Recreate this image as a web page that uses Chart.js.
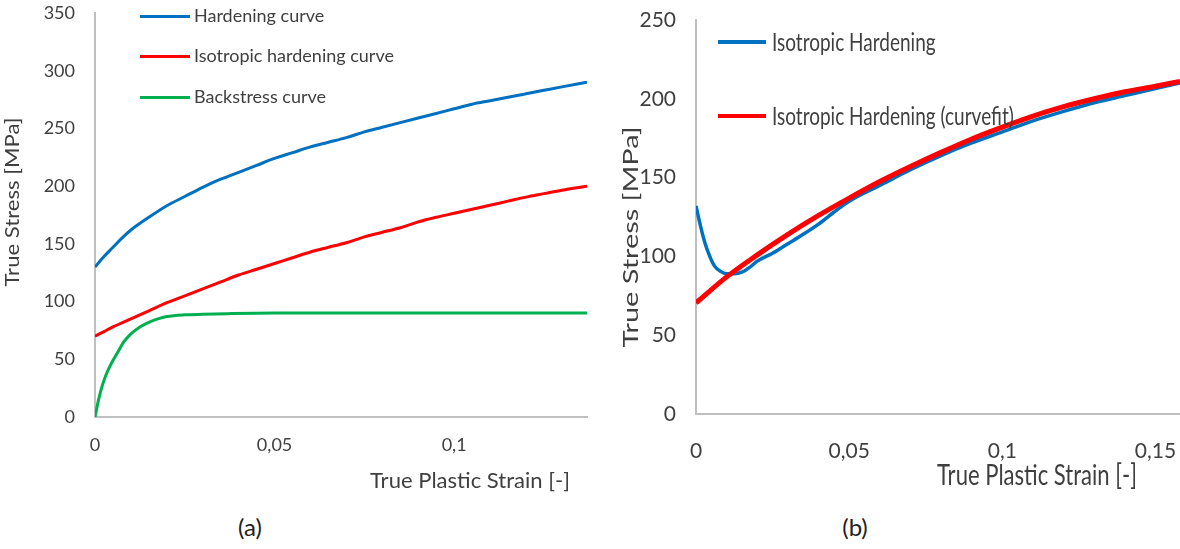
<!DOCTYPE html>
<html>
<head>
<meta charset="utf-8">
<title>Hardening curves</title>
<script src="https://cdn.jsdelivr.net/npm/chart.js@4.4.1/dist/chart.umd.min.js"></script>
<style>
    body { margin: 0; width: 1180px; height: 549px; background: #fff; position: relative; overflow: hidden; font-family: Lato, 'Open Sans', sans-serif; color: #3f3f3f; }
    canvas { position: absolute; top: 0; }
    #chartA { left: 0; }
    #chartB { left: 600px; }
    .legend { position: absolute; }
    .legend-row { position: absolute; left: 0; white-space: nowrap; }
    .legend-line { position: absolute; left: 0; }
    .legend-text { position: absolute; transform-origin: left center; line-height: 1; }
    .caption { position: absolute; top: 512px; font-size: 24px; color: #222; transform: translateX(-50%); }
</style>
</head>
<body>
<canvas id="chartA" width="600" height="500"></canvas>
<canvas id="chartB" width="580" height="500"></canvas>
<div class="legend" id="legendA" style="left:140px; top:0;"></div>
<div class="legend" id="legendB" style="left:718px; top:0;"></div>
<div class="caption" style="left:250px;">(a)</div>
<div class="caption" style="left:855px;">(b)</div>

<script>
// (a) hardening / isotropic / backstress curves
const strainA = [0, 0.0025, 0.005, 0.0075, 0.01, 0.015, 0.02, 0.025, 0.03, 0.035, 0.04, 0.045, 0.05, 0.055, 0.06,
    0.065, 0.07, 0.075, 0.08, 0.085, 0.09, 0.095, 0.1, 0.105, 0.11, 0.115, 0.12, 0.125, 0.13, 0.137];
const hardeningA = [130, 139, 147, 155, 162, 173, 183, 191, 199, 206, 212, 218, 224, 229, 234,
    238, 242, 247, 251, 255, 259, 263, 267, 271, 274, 277, 280, 283, 286, 290];
const isotropicA = [70, 74, 78, 81.5, 85, 92, 99, 105, 111, 117, 123, 128, 133, 138, 143,
    147, 151, 156, 160, 164, 169, 173, 176.5, 180, 183.5, 187, 190.5, 193.5, 196.5, 200];
const strainBack = [0, 0.001, 0.002, 0.003, 0.004, 0.005, 0.0065, 0.008, 0.01, 0.0125, 0.015, 0.0175, 0.02,
    0.025, 0.03, 0.037, 0.05, 0.075, 0.1, 0.137];
const backstressA = [0, 15, 27, 36, 43, 49, 57, 65, 72, 78, 82, 85, 87, 88.5, 89, 89.5, 90, 90, 90, 90];

// (b) isotropic hardening and its curve fit
const strainB = [0, 0.0015, 0.003, 0.0045, 0.006, 0.008, 0.01, 0.0125, 0.015, 0.0175, 0.02, 0.025, 0.03, 0.035,
    0.04, 0.045, 0.05, 0.06, 0.07, 0.08, 0.09, 0.1, 0.11, 0.12, 0.13, 0.14, 0.15, 0.158];
const isotropicB = [132, 119, 108, 100, 94, 90.5, 89, 89, 90, 93, 97, 102, 108, 114,
    120.5, 128, 135, 145, 155, 164, 172, 179, 186, 192, 197.5, 202, 206.5, 210];
const strainFit = [0, 0.01, 0.02, 0.03, 0.04, 0.05, 0.06, 0.07, 0.08, 0.09, 0.1, 0.11, 0.12, 0.13, 0.14, 0.15, 0.158];
const curvefitB = [70.5, 87, 101, 114, 126, 137, 147.5, 157, 166, 174.5, 182, 189, 195, 200, 204.5, 208, 211];

const ticksA = { xStep: 0.05, xMax: 0.137, yStep: 50, yMax: 350 };
const ticksB = { xStep: 0.05, xMax: 0.158, yStep: 50, yMax: 250 };

const BLUE = '#0070c0';
const RED = '#ff0000';
const GREEN = '#00b050';
const AXIS = '#bfbfbf';
const TEXT = '#3f3f3f';

function toPoints(xs, ys) {
    return xs.map((x, i) => ({ x: x, y: ys[i] }));
}

// decimal comma like the original
function commaLabel(v) {
    return parseFloat(v.toFixed(3)).toString().replace('.', ',');
}

// draws the axis titles where the original has them, squeezed to the original width
const axisTitles = {
    id: 'axisTitles',
    afterDraw(chart, args, opts) {
        const ctx = chart.ctx;
        (opts.items || []).forEach(t => {
            ctx.save();
            ctx.font = `${t.size}px Lato, 'Open Sans', sans-serif`;
            ctx.fillStyle = TEXT;
            ctx.textAlign = 'center';
            ctx.textBaseline = 'middle';
            ctx.translate(t.x, t.y);
            if (t.rotate) ctx.rotate(t.rotate);
            const w = ctx.measureText(t.text).width;
            ctx.scale(t.width / w, 1);
            ctx.fillText(t.text, 0, 0);
            ctx.restore();
        });
    }
};

function makeChart(id, datasets, ticks, cfg) {
    return new Chart(document.getElementById(id), {
        type: 'scatter',
        data: { datasets: datasets },
        plugins: [axisTitles],
        options: {
            responsive: false,
            animation: false,
            layout: { padding: cfg.padding },
            elements: { point: { radius: 0 }, line: { cubicInterpolationMode: 'monotone' } },
            plugins: {
                legend: { display: false },
                tooltip: { enabled: false },
                axisTitles: { items: cfg.titles }
            },
            scales: {
                x: {
                    type: 'linear',
                    min: 0,
                    max: ticks.xMax,
                    grid: { display: false, drawTicks: false },
                    border: { color: AXIS, width: 2 },
                    ticks: {
                        stepSize: ticks.xStep,
                        includeBounds: false,
                        padding: cfg.xPad,
                        color: TEXT,
                        font: { family: 'Lato', size: cfg.tickSize },
                        maxRotation: 0,
                        callback: v => commaLabel(v)
                    },
                    afterFit: s => {
                        s.height = cfg.xHeight;
                        s.paddingLeft = 0;
                        s.paddingRight = 0;
                    }
                },
                y: {
                    type: 'linear',
                    min: 0,
                    max: ticks.yMax,
                    grid: { display: false, drawTicks: false },
                    border: { color: AXIS, width: 2 },
                    ticks: {
                        stepSize: ticks.yStep,
                        padding: cfg.yPad,
                        color: TEXT,
                        font: { family: 'Lato', size: cfg.tickSize }
                    },
                    afterFit: s => {
                        s.width = cfg.yWidth;
                        s.paddingTop = 0;
                        s.paddingBottom = 0;
                    }
                }
            }
        }
    });
}

const chartA = makeChart('chartA', [
    { label: 'Hardening curve', data: toPoints(strainA, hardeningA), showLine: true, borderColor: BLUE, borderWidth: 3 },
    { label: 'Isotropic hardening curve', data: toPoints(strainA, isotropicA), showLine: true, borderColor: RED, borderWidth: 3 },
    { label: 'Backstress curve', data: toPoints(strainBack, backstressA), showLine: true, borderColor: GREEN, borderWidth: 3 }
], ticksA, {
    padding: { top: 13, right: 13, left: 0, bottom: 0 },
    xHeight: 83, yWidth: 95, xPad: 17, yPad: 20, tickSize: 18,
    titles: [
        { text: 'True Stress [MPa]', x: 13, y: 202, rotate: -Math.PI / 2, size: 20, width: 169 },
        { text: 'True Plastic Strain [-]', x: 470, y: 481, size: 21, width: 200 }
    ]
});

const chartB = makeChart('chartB', [
    { label: 'Isotropic Hardening', data: toPoints(strainB, isotropicB), showLine: true, borderColor: BLUE, borderWidth: 3.5, order: 1 },
    { label: 'Isotropic Hardening (curvefit)', data: toPoints(strainFit, curvefitB), showLine: true, borderColor: RED, borderWidth: 5, order: 0 }
], ticksB, {
    padding: { top: 20, right: 0, left: 0, bottom: 0 },
    xHeight: 86, yWidth: 96, xPad: 25, yPad: 20, tickSize: 21,
    titles: [
        { text: 'True Stress [MPa]', x: 31, y: 237, rotate: -Math.PI / 2, size: 22, width: 221 },
        { text: 'True Plastic Strain [-]', x: 437, y: 476, size: 28, width: 200 }
    ]
});

// legends as real text, built from the chart datasets
function buildLegend(chart, el, rows, lineW, lineH, textLeft, size, squeeze) {
    chart.data.datasets.forEach((ds, i) => {
        const row = document.createElement('div');
        row.className = 'legend-row';
        row.style.top = rows[i] + 'px';
        const line = document.createElement('div');
        line.className = 'legend-line';
        line.style.width = lineW + 'px';
        line.style.height = lineH + 'px';
        line.style.top = (-lineH / 2) + 'px';
        line.style.background = ds.borderColor;
        const txt = document.createElement('span');
        txt.className = 'legend-text';
        txt.textContent = ds.label;
        txt.style.left = textLeft + 'px';
        txt.style.fontSize = size + 'px';
        txt.style.top = (-size / 2 - 1) + 'px';
        txt.style.transform = `scaleX(${squeeze})`;
        row.appendChild(line);
        row.appendChild(txt);
        el.appendChild(row);
    });
}

buildLegend(chartA, document.getElementById('legendA'), [16, 56, 97], 50, 3, 54, 18, 1);
buildLegend(chartB, document.getElementById('legendB'), [42, 116], 48, 4, 54, 25, 0.76);
</script>
</body>
</html>
